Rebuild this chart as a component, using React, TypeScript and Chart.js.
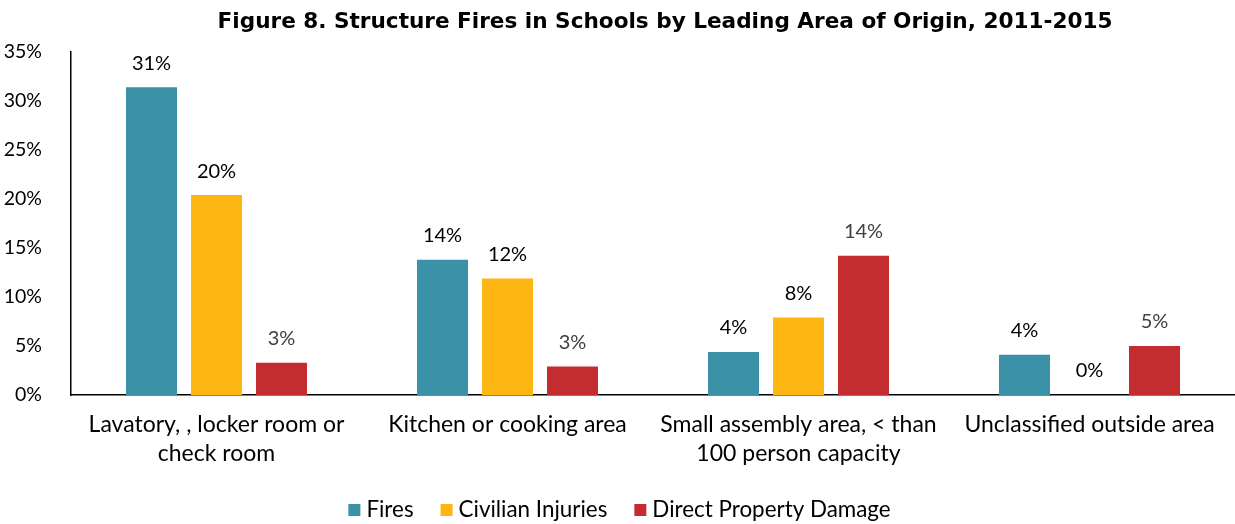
import React, { useEffect, useRef } from "react";
import { Chart, registerables } from "chart.js";

Chart.register(...registerables);

const TITLE = "Figure 8. Structure Fires in Schools by Leading Area of Origin, 2011-2015";
const categories: string[][] = [
  ["Lavatory, , locker room or", "check room"],
  ["Kitchen or cooking area"],
  ["Small assembly area, < than", "100 person capacity"],
  ["Unclassified outside area"],
];
const seriesNames = ["Fires", "Civilian Injuries", "Direct Property Damage"];
const fires = [31.4, 13.8, 4.4, 4.1];
const civilianInjuries = [20.4, 11.9, 7.9, 0];
const propertyDamage = [3.3, 2.9, 14.2, 5.0];
const yTicks = [0, 5, 10, 15, 20, 25, 30, 35];

const COLORS = ["#3A91A8", "#FDB612", "#C32D2F"];
const LABEL_COLORS = ["#000000", "#000000", "#404040"];
const FONT = "Lato, 'Open Sans', sans-serif";
const TITLE_FONT = "'DejaVu Sans', Lato, sans-serif";

const dataLabelPlugin = {
  id: "dataLabels",
  afterDatasetsDraw(chart: any) {
    const ctx = chart.ctx;
    ctx.save();
    ctx.font = `20px ${FONT}`;
    ctx.textAlign = "center";
    ctx.textBaseline = "middle";
    chart.data.datasets.forEach((ds: any, di: number) => {
      const meta = chart.getDatasetMeta(di);
      meta.data.forEach((el: any, i: number) => {
        const v = ds.data[i];
        ctx.fillStyle = LABEL_COLORS[di];
        ctx.fillText(`${Math.round(v)}%`, el.x, el.y - 24);
      });
    });
    ctx.restore();
  },
};

const titlePlugin = {
  id: "customTitle",
  afterDraw(chart: any) {
    const ctx = chart.ctx;
    ctx.save();
    const target = 895;
    ctx.font = `bold 20px ${TITLE_FONT}`;
    const w0 = ctx.measureText(TITLE).width;
    const size = Math.max(18, Math.min(23, (20 * target) / w0));
    ctx.font = `bold ${size.toFixed(1)}px ${TITLE_FONT}`;
    const w = ctx.measureText(TITLE).width;
    const spacing = Math.max(-1, Math.min(1, (target - w) / (TITLE.length - 1)));
    (ctx as any).letterSpacing = `${spacing.toFixed(2)}px`;
    ctx.fillStyle = "#000";
    ctx.textAlign = "center";
    ctx.textBaseline = "middle";
    ctx.fillText(TITLE, 665, 22);
    ctx.restore();
  },
};

const legendPlugin = {
  id: "customLegend",
  afterDraw(chart: any) {
    const ctx = chart.ctx;
    ctx.save();
    ctx.font = `22.4px ${FONT}`;
    ctx.textBaseline = "middle";
    ctx.textAlign = "left";
    const box = 12;
    const gapText = 6;
    const gapItem = 27;
    const items = chart.data.datasets.map((ds: any) => ({
      text: ds.label,
      color: ds.backgroundColor,
      w: ctx.measureText(ds.label).width,
    }));
    const total =
      items.reduce((s: number, it: any) => s + box + gapText + it.w, 0) +
      gapItem * (items.length - 1);
    let x = 619.5 - total / 2;
    const y = 510;
    items.forEach((it: any) => {
      ctx.fillStyle = it.color;
      ctx.fillRect(x, y - box / 2, box, box);
      x += box + gapText;
      ctx.fillStyle = "#000";
      ctx.fillText(it.text, x, y);
      x += it.w + gapItem;
    });
    ctx.restore();
  },
};

export default function App() {
  const canvasRef = useRef<HTMLCanvasElement | null>(null);

  useEffect(() => {
    document.body.style.margin = "0";
    const canvas = canvasRef.current;
    if (!canvas) return;
    const chart = new Chart(canvas, {
      type: "bar",
      data: {
        labels: categories,
        datasets: [
          { label: seriesNames[0], data: fires, backgroundColor: COLORS[0] },
          { label: seriesNames[1], data: civilianInjuries, backgroundColor: COLORS[1] },
          { label: seriesNames[2], data: propertyDamage, backgroundColor: COLORS[2] },
        ],
      },
      options: {
        animation: false,
        responsive: false,
        maintainAspectRatio: false,
        layout: { padding: { top: 52, right: 0, bottom: 50, left: 0 } },
        datasets: {
          bar: { categoryPercentage: 0.67, barPercentage: 0.785 },
        },
        scales: {
          x: {
            grid: { display: false },
            border: { display: true, color: "#000", width: 1.5 },
            ticks: {
              color: "#000",
              font: { family: FONT, size: 23, lineHeight: 1.22 },
              padding: 8,
              maxRotation: 0,
              autoSkip: false,
            },
            afterFit(scale: any) {
              scale.height = 79;
            },
          },
          y: {
            min: 0,
            max: 35,
            afterBuildTicks(scale: any) {
              scale.ticks = yTicks.map((v) => ({ value: v }));
            },
            grid: { display: false },
            border: { display: true, color: "#000", width: 1.5 },
            ticks: {
              color: "#000",
              font: { family: FONT, size: 19.5 },
              padding: 21,
              callback: (v: any) => `${v}%`,
            },
            afterFit(scale: any) {
              scale.width = 71;
            },
          },
        },
        plugins: {
          title: { display: false },
          tooltip: { enabled: false },
          legend: { display: false },
        },
      },
      plugins: [dataLabelPlugin, titlePlugin, legendPlugin],
    });
    return () => chart.destroy();
  }, []);

  return (
    <div style={{ width: 1235, height: 524 }}>
      <canvas ref={canvasRef} width={1235} height={524} style={{ display: "block" }} />
    </div>
  );
}
